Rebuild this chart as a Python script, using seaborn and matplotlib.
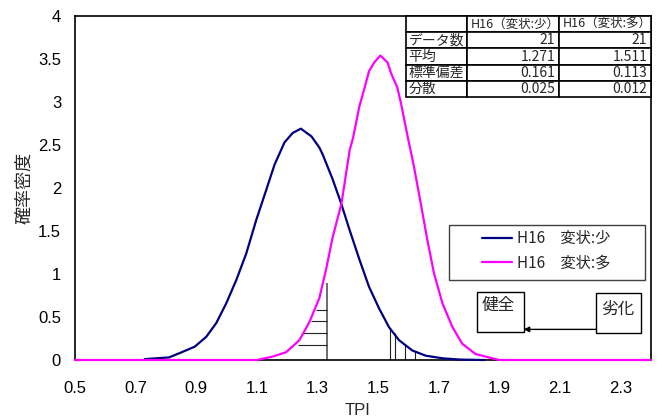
import matplotlib
matplotlib.use("Agg")
import matplotlib.pyplot as plt
from matplotlib import font_manager
from matplotlib.patches import Rectangle
import pandas as pd
import seaborn as sns

# 確率密度曲線
tpi_few = [0.73, 0.81, 0.845, 0.895, 0.933, 0.966, 0.999, 1.032, 1.065, 1.098,
           1.131, 1.158, 1.191, 1.218, 1.245, 1.28, 1.306, 1.317, 1.350, 1.377,
           1.405, 1.438, 1.470, 1.503, 1.536, 1.569, 1.613, 1.657, 1.712, 1.77, 1.85]
dens_few = [0.01, 0.03, 0.08, 0.155, 0.27, 0.43, 0.66, 0.93, 1.24, 1.63,
            1.98, 2.27, 2.53, 2.64, 2.69, 2.60, 2.47, 2.39, 2.10, 1.83,
            1.52, 1.17, 0.85, 0.60, 0.38, 0.23, 0.11, 0.05, 0.02, 0.005, 0.0]

tpi_many = [0.5, 1.10, 1.152, 1.196, 1.240, 1.273, 1.306, 1.328, 1.350, 1.379,
            1.406, 1.417, 1.438, 1.454, 1.470, 1.487, 1.507, 1.531, 1.542, 1.563,
            1.575, 1.596, 1.618, 1.640, 1.662, 1.684, 1.712, 1.744, 1.777, 1.821,
            1.876, 1.90, 2.4]
dens_many = [0.0, 0.0, 0.04, 0.09, 0.23, 0.44, 0.72, 1.05, 1.43, 1.82,
             2.44, 2.58, 2.95, 3.15, 3.36, 3.46, 3.54, 3.46, 3.34, 3.17,
             2.99, 2.62, 2.25, 1.83, 1.40, 1.01, 0.66, 0.39, 0.19, 0.07,
             0.02, 0.0, 0.0]

series_names = ["H16\u3000変状:少", "H16\u3000変状:多"]
series_colors = ["#000080", "#FF00FF"]

# 統計表
table_cols = ["", "H16（変状:少）", "H16（変状:多）"]
table_rows = ["データ数", "平均", "標準偏差", "分散"]
stats_few = ["21", "1.271", "0.161", "0.025"]
stats_many = ["21", "1.511", "0.113", "0.012"]

# 健全側の横線ハッチ
hatch_x = 1.331
hatch_top = 0.90
hatch_y = [0.58, 0.45, 0.31, 0.18]
hatch_left = [1.296, 1.279, 1.252, 1.236]

# 劣化側の縦線
drop_x = [1.538, 1.555, 1.589, 1.623]
drop_top = [0.37, 0.31, 0.19, 0.11]

xticks = [0.5, 0.7, 0.9, 1.1, 1.3, 1.5, 1.7, 1.9, 2.1, 2.3]
yticks = [0, 0.5, 1, 1.5, 2, 2.5, 3, 3.5, 4]

sns.set_style("white")
plt.rcParams["font.family"] = ["Noto Sans CJK JP", "DejaVu Sans"]

names = {f.name for f in font_manager.fontManager.ttflist}
num_font = "Liberation Sans Narrow" if "Liberation Sans Narrow" in names else "Liberation Sans"

df_few = pd.DataFrame({"TPI": tpi_few, "dens": dens_few})
df_many = pd.DataFrame({"TPI": tpi_many, "dens": dens_many})

fig = plt.figure(figsize=(6.62, 4.19), dpi=100)
ax = fig.add_axes([0.1133, 0.1408, 0.8701, 0.8210])

sns.lineplot(data=df_few, x="TPI", y="dens", ax=ax, color=series_colors[0],
             lw=1.6, label=series_names[0], sort=False, clip_on=False, zorder=3)
sns.lineplot(data=df_many, x="TPI", y="dens", ax=ax, color=series_colors[1],
             lw=1.6, label=series_names[1], sort=False, clip_on=False, zorder=4)

# ハッチと縦線
ax.vlines(hatch_x, 0, hatch_top, color="#606060", lw=1.3, zorder=2)
ax.hlines(hatch_y, hatch_left, hatch_x, color="#202020", lw=0.8, zorder=2)
ax.vlines(drop_x, 0, drop_top, color="#202020", lw=0.8, zorder=2)

ax.set_xlim(0.5, 2.4)
ax.set_ylim(0, 4)
ax.set_xticks(xticks)
ax.set_yticks(yticks)
ax.set_xticklabels([f"{v:g}" for v in xticks])
ax.set_yticklabels([f"{v:g}" for v in yticks])
ax.tick_params(axis="both", direction="in", length=5, width=1, color="#808080",
               labelsize=12, labelcolor="black")
ax.tick_params(axis="x", pad=15)
ax.tick_params(axis="y", pad=10)
for lbl in ax.get_xticklabels() + ax.get_yticklabels():
    lbl.set_family([num_font, "Noto Sans CJK JP"])
for s in ax.spines.values():
    s.set_color("black")
    s.set_linewidth(1.2)

ax.set_xlabel("TPI", fontsize=12, family=[num_font, "Noto Sans CJK JP"])
ax.set_ylabel("確率密度", fontsize=13)
ax.xaxis.set_label_coords(0.49, -0.125)
ax.yaxis.set_label_coords(-0.073, 0.5)

# 凡例
ax.add_patch(Rectangle((0.6493, 0.2326), 0.3403, 0.1599, transform=ax.transAxes,
                       fill=True, facecolor="white", edgecolor="#404040", lw=1, zorder=5))
leg = ax.legend(loc="upper left", bbox_to_anchor=(0.7066, 0.3776), borderaxespad=0,
                borderpad=0, frameon=False, handlelength=1.96, handletextpad=0.33,
                labelspacing=0.5, fontsize=11)
leg.set_zorder(6)

# 健全 / 劣化 の箱と矢印
ax.add_patch(Rectangle((1.826, 0.321), 0.154, 0.466, fill=False, edgecolor="black", lw=1, zorder=5))
ax.add_patch(Rectangle((2.220, 0.309), 0.148, 0.467, fill=False, edgecolor="black", lw=1, zorder=5))
ax.text(1.842, 0.73, "健全", fontsize=12, ha="left", va="top", zorder=6)
ax.text(2.237, 0.595, "劣化", fontsize=12, ha="left", va="center", zorder=6)
ax.annotate("", xy=(1.98, 0.356), xytext=(2.22, 0.356),
            arrowprops=dict(arrowstyle="-|>", color="black", lw=1, mutation_scale=8,
                            shrinkA=0, shrinkB=0), zorder=6)

# 統計表
cell_text = [table_cols] + [[r, a, b] for r, a, b in zip(table_rows, stats_few, stats_many)]
tbl = ax.table(cellText=cell_text, colWidths=[0.25, 0.373, 0.377], cellLoc="right",
               bbox=[0.5747, 0.7645, 0.4253, 0.2355], zorder=7)
tbl.auto_set_font_size(False)
for (r, c), cell in tbl.get_celld().items():
    cell.set_edgecolor("black")
    cell.set_linewidth(1.2)
    cell.PAD = 0.04
    txt = cell.get_text()
    if r == 0:
        txt.set_fontsize(9)
        cell._loc = "left"
        txt.set_ha("left")
    else:
        txt.set_fontsize(10)
        if c == 0:
            cell._loc = "left"
            txt.set_ha("left")

fig.savefig("out.png", dpi=100)
